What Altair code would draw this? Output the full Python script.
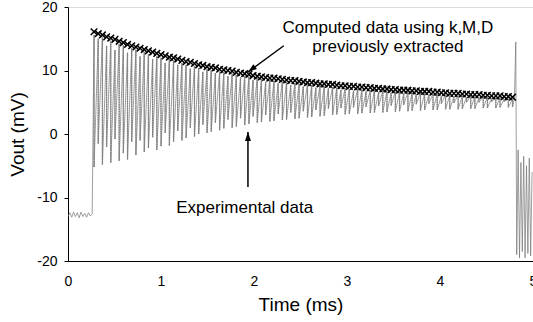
import altair as alt
import pandas as pd

# ---- data ----
pre_t = [0.00, 0.02, 0.04, 0.06, 0.08, 0.10, 0.12, 0.14, 0.16, 0.18, 0.20, 0.22, 0.24, 0.26]
pre_v = [-13.0, -12.4, -13.1, -12.3, -13.0, -12.4, -13.2, -12.3, -13.0, -12.5, -13.1, -12.4, -12.9, -12.6]

cycle_t = [
    0.280, 0.325, 0.370, 0.415, 0.460, 0.505, 0.550, 0.595, 0.640, 0.685,
    0.730, 0.775, 0.820, 0.865, 0.910, 0.955, 1.000, 1.045, 1.090, 1.135,
    1.180, 1.225, 1.270, 1.315, 1.360, 1.405, 1.450, 1.495, 1.540, 1.585,
    1.630, 1.675, 1.720, 1.765, 1.810, 1.855, 1.900, 1.945, 1.990, 2.035,
    2.080, 2.125, 2.170, 2.215, 2.260, 2.305, 2.350, 2.395, 2.440, 2.485,
    2.530, 2.575, 2.620, 2.665, 2.710, 2.755, 2.800, 2.845, 2.890, 2.935,
    2.980, 3.025, 3.070, 3.115, 3.160, 3.205, 3.250, 3.295, 3.340, 3.385,
    3.430, 3.475, 3.520, 3.565, 3.610, 3.655, 3.700, 3.745, 3.790, 3.835,
    3.880, 3.925, 3.970, 4.015, 4.060, 4.105, 4.150, 4.195, 4.240, 4.285,
    4.330, 4.375, 4.420, 4.465, 4.510, 4.555, 4.600, 4.645, 4.690, 4.735,
    4.780,
]

computed_v = [
    16.1, 15.8, 15.6, 15.3, 15.1, 14.9, 14.6, 14.4, 14.1, 13.9,
    13.7, 13.5, 13.3, 13.1, 12.9, 12.7, 12.5, 12.3, 12.1, 12.0,
    11.8, 11.6, 11.4, 11.3, 11.1, 10.9, 10.8, 10.6, 10.5, 10.4,
    10.2, 10.1, 10.0, 9.9, 9.7, 9.6, 9.5, 9.4, 9.2, 9.1,
    9.0, 8.9, 8.8, 8.8, 8.7, 8.6, 8.5, 8.4, 8.4, 8.3,
    8.2, 8.1, 8.1, 8.0, 7.9, 7.9, 7.8, 7.8, 7.7, 7.6,
    7.6, 7.5, 7.5, 7.4, 7.4, 7.3, 7.3, 7.2, 7.2, 7.1,
    7.1, 7.0, 7.0, 6.9, 6.9, 6.9, 6.8, 6.8, 6.7, 6.7,
    6.7, 6.6, 6.6, 6.5, 6.5, 6.4, 6.4, 6.4, 6.3, 6.3,
    6.2, 6.2, 6.2, 6.1, 6.1, 6.0, 6.0, 6.0, 5.9, 5.9,
    5.8,
]

exp_peaks = [
    15.6, 15.0, 15.2, 13.9, 14.7, 13.2, 14.2, 14.0, 12.8, 13.5,
    13.3, 12.2, 12.9, 12.6, 11.8, 12.3, 12.0, 11.2, 11.8, 11.6,
    10.9, 11.2, 10.9, 10.3, 10.7, 10.4, 9.8, 10.2, 10.0, 9.6,
    9.8, 9.7, 9.1, 9.5, 9.3, 8.9, 9.1, 9.0, 8.5, 8.8,
    8.7, 8.2, 8.5, 8.4, 8.0, 8.3, 8.2, 7.7, 8.0, 7.9,
    7.5, 7.8, 7.7, 7.3, 7.6, 7.5, 7.2, 7.4, 7.3, 7.0,
    7.2, 7.1, 6.8, 7.1, 7.0, 6.7, 6.9, 6.9, 6.6, 6.8,
    6.8, 6.5, 6.7, 6.6, 6.4, 6.6, 6.5, 6.3, 6.5, 6.4,
    6.2, 6.3, 6.3, 6.0, 6.2, 6.1, 5.9, 6.1, 6.0, 5.8,
    6.0, 5.9, 5.7, 5.9, 5.8, 5.6, 5.7, 5.7, 5.5, 5.6,
    5.5,
]

exp_troughs = [
    -5.2, -1.5, -4.8, -2.0, -4.5, -0.8, -4.2, -3.0, -4.0, -1.2,
    -3.3, -1.0, -2.8, -2.2, -0.5, -2.5, -1.9, 0.2, -1.8, -1.2,
    0.5, -1.0, -0.6, 1.0, -0.4, 0.0, 1.5, 0.2, 0.4, 1.8,
    0.6, 0.9, 2.3, 1.0, 1.2, 2.5, 1.4, 1.6, 2.8, 1.8,
    1.9, 3.0, 2.0, 2.1, 3.2, 2.2, 2.3, 3.4, 2.4, 2.5,
    3.6, 2.6, 2.7, 3.8, 2.8, 2.9, 4.0, 3.0, 3.1, 4.1,
    3.1, 3.2, 4.2, 3.2, 3.3, 4.3, 3.3, 3.4, 4.4, 3.4,
    3.5, 4.5, 3.5, 3.6, 4.6, 3.6, 3.7, 4.7, 3.7, 3.8,
    4.8, 3.8, 3.8, 4.8, 3.9, 3.9, 4.9, 3.9, 4.0, 5.0,
    4.0, 4.0, 5.0, 4.1, 4.1, 5.1, 4.1, 4.2, 5.1, 4.2,
    4.3,
]

tail_t = [4.800, 4.815, 4.825, 4.840, 4.855, 4.870, 4.885, 4.900, 4.915, 4.930, 4.945, 4.960, 4.975, 4.990]
tail_v = [5.6, 14.5, -19.0, -2.5, -19.5, -4.5, -18.5, -3.5, -19.5, -5.0, -18.8, -3.8, -19.2, -6.0]

x_ticks = [0, 1, 2, 3, 4, 5]
y_ticks = [-20, -10, 0, 10, 20]

# annotations (data coordinates)
ann_text = ["Computed data using k,M,D", "previously extracted", "Experimental data"]
ann_t = [3.44, 3.44, 1.90]
ann_v = [16.7, 13.7, -11.6]
arrow_t1 = [2.32, 1.935]
arrow_v1 = [13.9, -8.35]
arrow_t2 = [1.935, 1.935]
arrow_v2 = [9.76, 0.31]
arrow_angle = [233, 0]

# ---- build tables ----
rows = []
k = 0
for t, v in zip(pre_t, pre_v):
    rows.append({"t": t, "v": v, "k": k}); k += 1
for t, p, tr in zip(cycle_t, exp_peaks, exp_troughs):
    rows.append({"t": t, "v": p, "k": k}); k += 1
    rows.append({"t": t, "v": tr, "k": k}); k += 1
for t, v in zip(tail_t, tail_v):
    rows.append({"t": t, "v": v, "k": k}); k += 1
exp_df = pd.DataFrame(rows)

bars_df = pd.DataFrame({"t": cycle_t, "lo": exp_troughs, "hi": exp_peaks})
comp_df = pd.DataFrame({"t": cycle_t, "v": computed_v})
ann_df = pd.DataFrame({"t": ann_t, "v": ann_v, "label": ann_text})
arr_df = pd.DataFrame({"t": arrow_t1, "v": arrow_v1, "t2": arrow_t2, "v2": arrow_v2, "ang": arrow_angle})

FONT = "Liberation Sans"

xs = alt.Scale(domain=[0, 5], nice=False)
ys = alt.Scale(domain=[-20, 20], nice=False)

xaxis = alt.Axis(values=x_ticks, title="Time (ms)", grid=False, tickSize=0, labelPadding=13,
                 titlePadding=7, labelFontSize=14, titleFontSize=19, labelFont=FONT, titleFont=FONT,
                 titleFontWeight="normal", labelColor="black", titleColor="black",
                 domainColor="black", labelFlush=False, labelExpr="'' + datum.value")
yaxis = alt.Axis(values=y_ticks, title="Vout (mV)", grid=False, tickSize=4, labelPadding=7,
                 titlePadding=9, labelFontSize=14, titleFontSize=19, labelFont=FONT, titleFont=FONT,
                 titleFontWeight="normal", labelColor="black", titleColor="black",
                 domainColor="black", tickColor="black", labelFlush=False,
                 labelExpr="'' + datum.value")

exp_line = alt.Chart(exp_df).mark_line(color="#707070", strokeWidth=0.8, opacity=0.85, clip=True).encode(
    x=alt.X("t:Q", scale=xs, axis=xaxis),
    y=alt.Y("v:Q", scale=ys, axis=yaxis),
    order=alt.Order("k:Q"),
)

exp_bars = alt.Chart(bars_df).mark_rule(color="#808080", strokeWidth=1.3, strokeDash=[1.5, 0.8]).encode(
    x=alt.X("t:Q", scale=xs), y=alt.Y("lo:Q", scale=ys), y2="hi:Q")

xmark = alt.Chart(comp_df).mark_point(shape="M-1,-1L1,1M-1,1L1,-1", size=44, color="black",
                                       strokeWidth=1.5, filled=False, opacity=1).encode(
    x=alt.X("t:Q", scale=xs), y=alt.Y("v:Q", scale=ys))

arrows = alt.Chart(arr_df).mark_rule(color="black", strokeWidth=1.5).encode(
    x=alt.X("t:Q", scale=xs), y=alt.Y("v:Q", scale=ys), x2="t2:Q", y2="v2:Q")

heads = alt.Chart(arr_df).mark_point(shape="M0,0L-1,3L1,3Z", size=36, filled=True, color="black",
                                      opacity=1).encode(
    x=alt.X("t2:Q", scale=xs), y=alt.Y("v2:Q", scale=ys), angle=alt.Angle("ang:Q", scale=None))

texts = alt.Chart(ann_df).mark_text(font=FONT, fontSize=17, color="black", align="center",
                                     baseline="middle").encode(
    x=alt.X("t:Q", scale=xs), y=alt.Y("v:Q", scale=ys), text="label:N")

chart = alt.layer(exp_line, exp_bars, xmark, arrows, heads, texts).properties(
    width=465, height=254,
    padding={"left": 68, "top": 7, "right": 0, "bottom": 61},
    autosize=alt.AutoSizeParams(type="none"),
).configure_view(stroke="black", strokeWidth=1).configure(background="white")

chart.save("out.html", embed_options={"renderer": "svg", "actions": False})
